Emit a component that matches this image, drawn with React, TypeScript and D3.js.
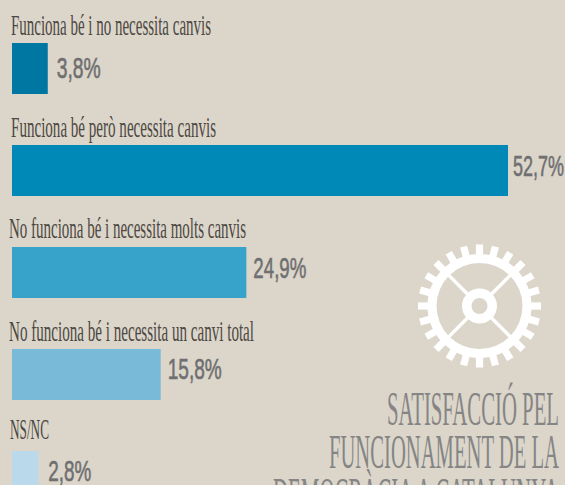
import React from "react";
import * as d3 from "d3";

const categories = [
  "Funciona bé i no necessita canvis",
  "Funciona bé però necessita canvis",
  "No funciona bé i necessita molts canvis",
  "No funciona bé i necessita un canvi total",
  "NS/NC",
];
const values = [3.8, 52.7, 24.9, 15.8, 2.8];
const valueLabels = ["3,8%", "52,7%", "24,9%", "15,8%", "2,8%"];
const colors = ["#0076a3", "#0089b6", "#37a3cb", "#79bad9", "#bad9ea"];
const titleLines = ["SATISFACCIÓ PEL", "FUNCIONAMENT DE LA", "DEMOCRÀCIA A CATALUNYA"];

const labelX = [11, 11, 9, 9, 10];
const labelW = [200, 205, 237, 245, 39];
const labelDy = [-8, -8, -9, -8, -12];
const valW = [44, 51, 53, 54, 43];
const valDx = [9, 5, 7, 7, 10];
const valDy = [35, 31, 31, 30, 30];
const titleW = [172, 230, 286];
const BG = "#dcd6ca";

const x = d3.scaleLinear().domain([0, 52.7]).range([0, 496]);
const y = d3.scaleBand<number>().domain(d3.range(5)).range([43, 502]).paddingInner(0.5).paddingOuter(0);

const GEAR = { cx: 479.5, cy: 306, teeth: 24 };

function Gear() {
  const ring = d3.arc()({ innerRadius: 43, outerRadius: 52, startAngle: 0, endAngle: 2 * Math.PI }) as string;
  const hub = d3.arc()({ innerRadius: 8, outerRadius: 17.5, startAngle: 0, endAngle: 2 * Math.PI }) as string;
  return (
    <g transform={`translate(${GEAR.cx},${GEAR.cy})`} fill="#ffffff">
      <path d={ring} />
      <path d={hub} />
      {d3.range(GEAR.teeth).map((i) => (
        <rect key={i} x={-3.6} y={-61.5} width={7.2} height={12} transform={`rotate(${(i * 360) / GEAR.teeth})`} />
      ))}
      {[45, 135, 225, 315].map((a) => (
        <rect key={a} x={-1.7} y={-44} width={3.4} height={28} transform={`rotate(${a})`} />
      ))}
    </g>
  );
}

export default function App() {
  return (
    <svg
      width={565}
      height={485}
      viewBox="0 0 565 485"
      style={{ position: "fixed", left: 0, top: 0, display: "block", background: BG }}
    >
      <rect width={565} height={485} fill={BG} />
      {categories.map((c, i) => {
        const top = y(i) as number;
        const bw = x(values[i]);
        return (
          <g key={c}>
            <text
              x={labelX[i]}
              y={top + labelDy[i]}
              fontFamily="'Liberation Serif'"
              fontSize={29}
              fill="#4c4843"
              textLength={labelW[i]}
              lengthAdjust="spacingAndGlyphs"
            >
              {c}
            </text>
            <rect x={12} y={top} width={bw} height={y.bandwidth()} fill={colors[i]} />
            <text
              x={12 + bw + valDx[i]}
              y={top + valDy[i]}
              fontFamily="'Liberation Sans Narrow','Liberation Sans'"
              fontSize={30}
              fill="#6f6f71"
              stroke="#6f6f71"
              strokeWidth={0.6}
              textLength={valW[i]}
              lengthAdjust="spacingAndGlyphs"
            >
              {valueLabels[i]}
            </text>
          </g>
        );
      })}
      <Gear />
      {titleLines.map((t, i) => (
        <text
          key={t}
          x={559}
          y={425 + i * 43}
          textAnchor="end"
          fontFamily="'Liberation Serif'"
          fontSize={48}
          fill="#858585"
          textLength={titleW[i]}
          lengthAdjust="spacingAndGlyphs"
        >
          {t}
        </text>
      ))}
    </svg>
  );
}
